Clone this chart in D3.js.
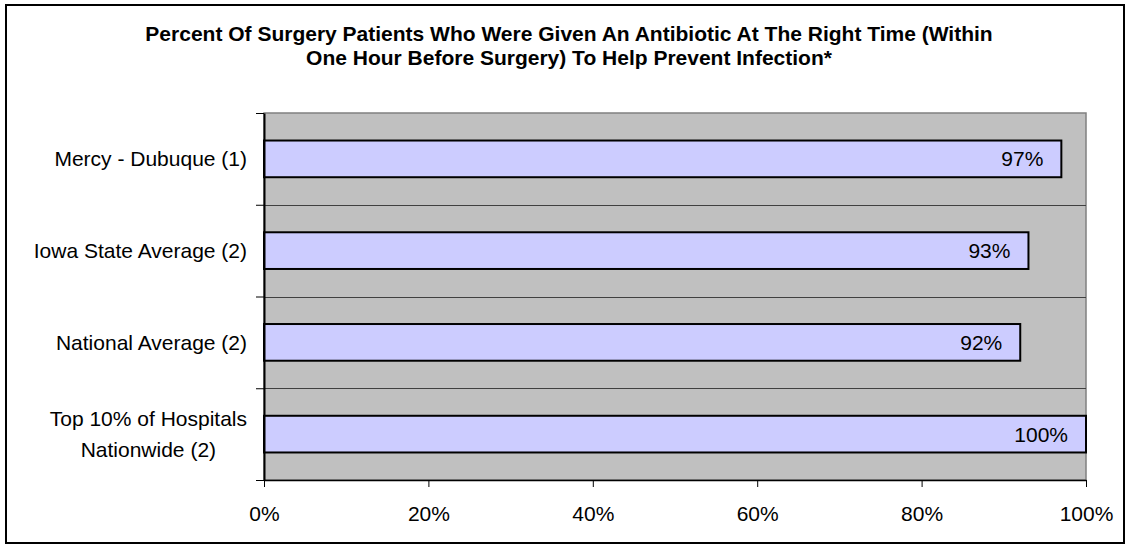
<!DOCTYPE html>
<html>
<head>
<meta charset="utf-8">
<script src="https://cdn.jsdelivr.net/npm/d3@7"></script>
<style>
  body { margin: 0; background: #fff; }
  svg text { font-family: "Liberation Sans", Arial, sans-serif; fill: #000; }
</style>
</head>
<body>
<figure id="bar" style="margin:0"></figure>
<script>
// chart data
const categories = [
  ["Mercy - Dubuque (1)"],
  ["Iowa State Average (2)"],
  ["National Average (2)"],
  ["Top 10% of Hospitals", "Nationwide (2)"]
]
const values = [97, 93, 92, 100]
const xTicks = [0, 20, 40, 60, 80, 100]
const titleLines = [
  "Percent Of Surgery Patients Who Were Given An Antibiotic At The Right Time (Within",
  "One Hour Before Surgery) To Help Prevent Infection*"
]

const width = 1130
const height = 548
const margin = { top: 113, right: 44, bottom: 68, left: 264 }
const innerW = width - margin.left - margin.right
const innerH = height - margin.top - margin.bottom

const svg = d3.select('figure#bar')
  .append("svg")
  .attr("width", width)
  .attr("height", height)

// outer frame
svg.append("rect")
  .attr("x", 6).attr("y", 5)
  .attr("width", width - 12).attr("height", height - 10)
  .attr("fill", "#fff")
  .attr("stroke", "#000")
  .attr("stroke-width", 2)

// title
svg.append("g").selectAll("text")
  .data(titleLines)
  .enter().append("text")
  .attr("x", 569)
  .attr("y", (d, i) => 41 + i * 24)
  .attr("text-anchor", "middle")
  .style("font-weight", "bold")
  .style("font-size", "21px")
  .text(d => d)

const g = svg.append("g")
  .attr("transform", "translate(" + margin.left + "," + margin.top + ")")

const x = d3.scaleLinear()
  .domain([0, 100])
  .range([0, innerW])

const y = d3.scaleBand()
  .domain(d3.range(categories.length))
  .range([0, innerH])
  .paddingInner(0.6)
  .paddingOuter(0.3)

// plot area
g.append("rect")
  .attr("width", innerW)
  .attr("height", innerH)
  .attr("fill", "#c0c0c0")
  .attr("stroke", "#808080")
  .attr("stroke-width", 1.5)

// gridlines between categories
const step = innerH / categories.length
g.append("g").selectAll("line")
  .data(d3.range(1, categories.length))
  .enter().append("line")
  .attr("x1", 0).attr("x2", innerW)
  .attr("y1", d => Math.round(d * step) + 0.5)
  .attr("y2", d => Math.round(d * step) + 0.5)
  .attr("stroke", "#404040")
  .attr("stroke-width", 1)

// bars
g.append("g").selectAll("rect")
  .data(values)
  .enter().append("rect")
  .attr("x", x(0))
  .attr("y", (d, i) => y(i))
  .attr("width", d => x(d))
  .attr("height", y.bandwidth())
  .attr("fill", "#ccccff")
  .attr("stroke", "#000")
  .attr("stroke-width", 2)

// value labels
g.append("g").selectAll("text")
  .data(values)
  .enter().append("text")
  .attr("x", d => x(d) - 18)
  .attr("y", (d, i) => y(i) + y.bandwidth() / 2)
  .attr("dy", "0.36em")
  .attr("text-anchor", "end")
  .style("font-size", "21px")
  .text(d => d + "%")

// x axis
const xAxis = g.append("g")
  .attr("transform", "translate(0," + innerH + ")")
  .call(d3.axisBottom(x).tickValues(xTicks).tickFormat(d => d + "%").tickSize(7).tickSizeOuter(0))
xAxis.select(".domain").attr("stroke", "#000").attr("stroke-width", 1.5)
xAxis.selectAll(".tick line").attr("stroke", "#000")
xAxis.selectAll("text")
  .attr("y", 26)
  .style("font-size", "21px")
  .attr("font-family", null)

// y axis: ticks at category boundaries
const yb = d3.scaleLinear().domain([0, categories.length]).range([0, innerH])
const yAxis = g.append("g")
  .call(d3.axisLeft(yb).ticks(categories.length).tickFormat("").tickSize(8).tickSizeOuter(0))
yAxis.select(".domain").attr("stroke", "#000").attr("stroke-width", 2)
yAxis.selectAll(".tick line").attr("stroke", "#000")

// category labels
const labels = g.append("g").selectAll("text")
  .data(categories)
  .enter().append("text")
  .attr("text-anchor", "middle")
  .style("font-size", "21px")
  .attr("transform", (d, i) => "translate(0," + (y(i) + y.bandwidth() / 2) + ")")

labels.each(function (lines) {
  const t = d3.select(this)
  const lh = 31
  lines.forEach((ln, j) => {
    t.append("tspan")
      .attr("x", 0)
      .attr("y", (j - (lines.length - 1) / 2) * lh)
      .attr("dy", "0.36em")
      .text(ln)
  })
})
// right-align each label block to 17px left of the axis
labels.each(function () {
  const bb = this.getBBox()
  d3.select(this).selectAll("tspan").attr("x", -17 - bb.width / 2)
})
</script>
</body>
</html>
